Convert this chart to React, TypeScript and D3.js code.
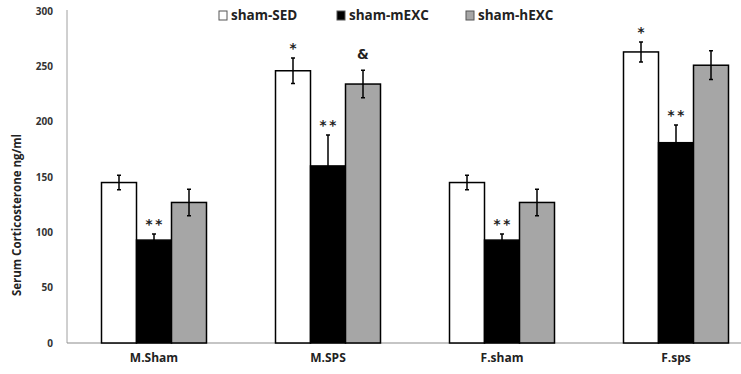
import React from "react";
import * as d3 from "d3";

const categories = ["M.Sham", "M.SPS", "F.sham", "F.sps"];
const seriesNames = ["sham-SED", "sham-mEXC", "sham-hEXC"];
const seriesFill = ["#ffffff", "#000000", "#a6a6a6"];

const sedValues = [145, 246, 145, 263];
const sedErr = [6.5, 11.5, 6.5, 9];
const mexcValues = [93, 160, 93, 181];
const mexcErr = [5.5, 28, 5.5, 16];
const hexcValues = [127, 234, 127, 251];
const hexcErr = [12, 12.5, 12, 13];

const sedMarks = ["", "*", "", "*"];
const mexcMarks = ["**", "**", "**", "**"];
const hexcMarks = ["", "&", "", ""];

const yTicks = [0, 50, 100, 150, 200, 250, 300];

const App = () => {
  const ref = React.useRef<SVGSVGElement>(null);

  React.useEffect(() => {
    const width = 741;
    const height = 374;
    const margin = { left: 67, top: 11, bottom: 31 };

    const svg = d3.select(ref.current);
    svg.selectAll("*").remove();

    const font = "'Open Sans', Lato, sans-serif";
    const markFont = "'DejaVu Sans', sans-serif";

    const values = [sedValues, mexcValues, hexcValues];
    const errs = [sedErr, mexcErr, hexcErr];
    const marks = [sedMarks, mexcMarks, hexcMarks];

    // four bands of 174px, the last one runs past the picture edge
    const x = d3.scaleBand()
      .domain(categories)
      .range([margin.left, margin.left + 174 * 4]);

    const xs = d3.scaleBand()
      .domain(seriesNames)
      .range([0, 105]);

    const y = d3.scaleLinear()
      .domain([0, 300])
      .range([height - margin.bottom, margin.top]);

    // axes lines
    svg.append("line")
      .attr("x1", margin.left).attr("x2", margin.left)
      .attr("y1", y(300) - 1).attr("y2", y(0))
      .attr("stroke", "#a0a0a0").attr("stroke-width", 1);
    svg.append("line")
      .attr("x1", margin.left).attr("x2", width)
      .attr("y1", y(0)).attr("y2", y(0))
      .attr("stroke", "#8c8c8c").attr("stroke-width", 1.2);

    svg.append("g")
      .selectAll("text")
      .data(yTicks)
      .join("text")
      .attr("x", 53)
      .attr("y", d => y(d))
      .attr("dy", "0.35em")
      .attr("text-anchor", "end")
      .attr("font-family", font)
      .attr("font-weight", "bold")
      .attr("font-size", 10)
      .attr("fill", "#333")
      .text(d => d);

    svg.append("text")
      .attr("transform", "translate(21,215) rotate(-90)")
      .attr("text-anchor", "middle")
      .attr("font-family", font)
      .attr("font-weight", "bold")
      .attr("font-size", 11.5)
      .attr("fill", "#222")
      .text("Serum Corticosterone ng/ml");

    svg.append("g")
      .selectAll("text")
      .data(categories)
      .join("text")
      .attr("x", d => x(d)! + x.bandwidth() / 2)
      .attr("y", 362)
      .attr("text-anchor", "middle")
      .attr("font-family", font)
      .attr("font-weight", "bold")
      .attr("font-size", 12)
      .attr("fill", "#222")
      .text(d => d);

    // bars
    seriesNames.forEach((s, si) => {
      const g = svg.append("g");
      const off = (x.bandwidth() - 105) / 2 + xs(s)!;
      g.selectAll("rect")
        .data(categories)
        .join("rect")
        .attr("x", d => x(d)! + off)
        .attr("y", (d, i) => y(values[si][i]))
        .attr("width", xs.bandwidth())
        .attr("height", (d, i) => y(0) - y(values[si][i]))
        .attr("fill", seriesFill[si])
        .attr("stroke", "#000")
        .attr("stroke-width", 1.5);

      const cx = (d: string) => x(d)! + off + xs.bandwidth() / 2;
      g.selectAll("path.err")
        .data(categories)
        .join("path")
        .attr("class", "err")
        .attr("fill", "none")
        .attr("stroke", "#000")
        .attr("stroke-width", 1.5)
        .attr("d", (d, i) => {
          const hi = y(values[si][i] + errs[si][i]);
          const lo = y(values[si][i] - errs[si][i]);
          const c = cx(d);
          return `M${c},${hi}V${lo}M${c - 2},${hi}H${c + 2}M${c - 2},${lo}H${c + 2}`;
        });

      // significance marks; "**" drawn with a gap like the original
      g.selectAll("text")
        .data(categories)
        .join("text")
        .attr("x", d => cx(d))
        .attr("y", (d, i) => y(values[si][i] + errs[si][i]) - (marks[si][i] === "&" ? 11 : 5))
        .attr("text-anchor", "middle")
        .attr("font-family", markFont)
        .attr("font-weight", "bold")
        .attr("font-size", 13.5)
        .attr("fill", "#222")
        .text((d, i) => marks[si][i].split("").join("\u2009"));
    });

    // legend
    const legendX = [219, 337, 466];
    const legend = svg.append("g")
      .selectAll("g")
      .data(seriesNames)
      .join("g")
      .attr("transform", (d, i) => `translate(${legendX[i]},15)`);
    legend.append("rect")
      .attr("x", 0).attr("y", -4)
      .attr("width", 8).attr("height", 9)
      .attr("fill", (d, i) => seriesFill[i])
      .attr("stroke", "#555")
      .attr("stroke-width", 1);
    legend.append("text")
      .attr("x", 12)
      .attr("y", 0)
      .attr("dy", "0.35em")
      .attr("font-family", font)
      .attr("font-weight", "bold")
      .attr("font-size", 13.5)
      .attr("fill", "#222")
      .text(d => d);
  }, []);

  return (
    <svg
      ref={ref}
      width={741}
      height={374}
      style={{ position: "absolute", left: 0, top: 0, background: "#fff" }}
    />
  );
};

export default App;
